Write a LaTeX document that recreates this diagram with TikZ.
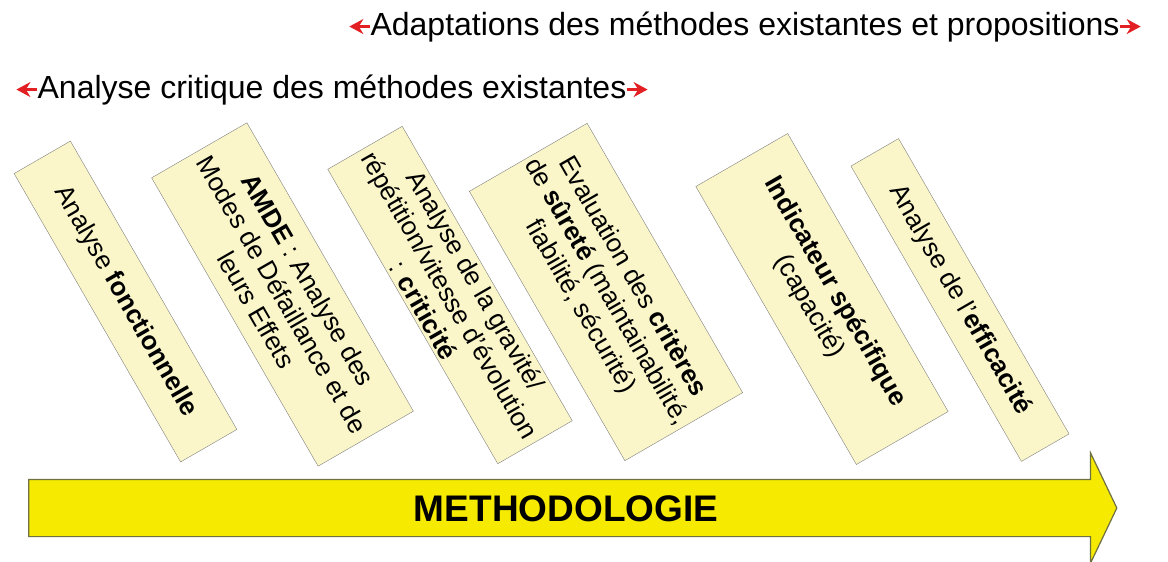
\documentclass[tikz,border=0pt]{standalone}
\usepackage{fontspec}
\setmainfont{Liberation Sans}
\usetikzlibrary{shapes,arrows,arrows.meta,positioning}

\definecolor{papier}{RGB}{250,246,202}
\definecolor{jaune}{RGB}{245,234,0}
\definecolor{rouge}{RGB}{226,32,36}
\definecolor{bord}{RGB}{112,112,64}

\tikzset{
  etape/.style={draw=gray, fill=papier, rotate=-60, align=center,
    font=\fontsize{26}{30}\selectfont, inner sep=2pt},
  titre/.style={font=\fontsize{32}{36}\selectfont, inner sep=0pt},
  fleche/.style={rouge, line width=3.5pt, -{Stealth[length=14pt,width=15pt]}}
}

\begin{document}
\begin{tikzpicture}[x=1pt,y=-1pt]
\useasboundingbox (0,0) rectangle (1168,562);

% titres
\node[titre, anchor=base] (adapt) at (745,35) {Adaptations des méthodes existantes et propositions};
\node[titre, anchor=base] (critique) at (332,98) {Analyse critique des méthodes existantes};
\coordinate[left=21pt of adapt.west] (adaptg);
\coordinate[right=21pt of adapt.east] (adaptd);
\coordinate[left=21pt of critique.west] (critg);
\coordinate[right=21pt of critique.east] (critd);
\draw[fleche] (adapt.west) -- (adaptg);
\draw[fleche] (adapt.east) -- (adaptd);
\draw[fleche] (critique.west) -- (critg);
\draw[fleche] (critique.east) -- (critd);

% etapes
\node[etape, minimum width=333pt, minimum height=65pt] (fonct) at (125.5,301.5)
  {Analyse \textbf{fonctionnelle}};
\node[etape, minimum width=333pt, minimum height=110pt] (amde) at (282.5,294.5)
  {\textbf{AMDE} : Analyse des\\Modes de Défaillance et de\\leurs Effets};
\node[etape, minimum width=340pt, minimum height=86pt] (crit) at (450,295)
  {Analyse de la gravité/\\répétition/vitesse d'évolution\\: \textbf{criticité}};
\node[etape, minimum width=311pt, minimum height=136pt] (surete) at (606,292)
  {Evaluation des \textbf{critères}\\de \textbf{sûreté} (maintainabilité,\\fiabilité, sécurité)};
\node[etape, minimum width=321pt, minimum height=106pt] (indic) at (822,299)
  {\textbf{Indicateur spécifique}\\(capacité)};
\node[etape, minimum width=341pt, minimum height=55pt] (effic) at (960,300)
  {Analyse de l'\textbf{efficacité}};

\node[single arrow, draw=bord, line width=1.2pt, fill=jaune,
  minimum height=1088pt, single arrow head extend=26.5pt,
  single arrow tip angle=129, text height=27pt, text depth=0pt,
  inner ysep=14.5pt, font=\bfseries\fontsize{37}{40}\selectfont] (methode) at (566,508) {METHODOLOGIE};
\end{tikzpicture}
\end{document}
